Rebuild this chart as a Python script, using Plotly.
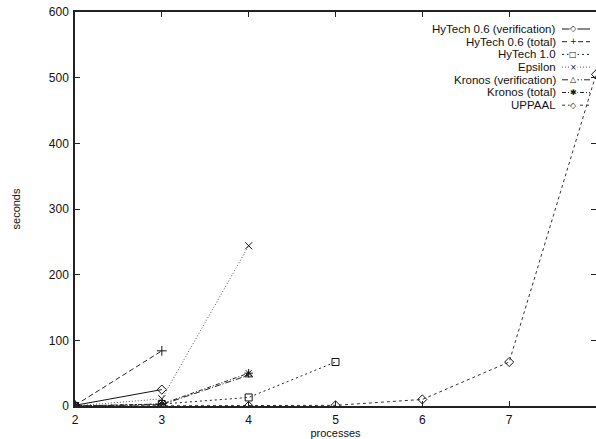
import plotly.graph_objects as go

hytech06_verif_x = [2, 3]
hytech06_verif = [1, 25]
hytech06_total_x = [2, 3]
hytech06_total = [1, 84]
hytech10_x = [2, 3, 4, 5]
hytech10 = [0, 3, 13, 67]
epsilon_x = [2, 3, 4]
epsilon = [0, 11, 244]
kronos_verif_x = [2, 3, 4]
kronos_verif = [0, 2, 47]
kronos_total_x = [2, 3, 4]
kronos_total = [0, 3, 50]
uppaal_x = [2, 3, 4, 5, 6, 7, 8]
uppaal = [0, 0, 0, 1, 10, 67, 505]

x_ticks = [2, 3, 4, 5, 6, 7]
y_ticks = [0, 100, 200, 300, 400, 500, 600]

names = ["HyTech 0.6 (verification)", "HyTech 0.6 (total)", "HyTech 1.0",
         "Epsilon", "Kronos (verification)", "Kronos (total)", "UPPAAL"]
xs = [hytech06_verif_x, hytech06_total_x, hytech10_x, epsilon_x,
      kronos_verif_x, kronos_total_x, uppaal_x]
ys = [hytech06_verif, hytech06_total, hytech10, epsilon,
      kronos_verif, kronos_total, uppaal]
dashes = ["solid", "5px,3px", "2px,3px", "1px,2px", "6px,2px,1px,2px", "4px,2px,1px,2px", "3px,3px"]
symbols = ["diamond-open", "cross-thin-open", "square-open", "x-thin-open",
           "triangle-up-open", "asterisk-open", "diamond-open"]
colors = ["#111", "#222", "#222", "#555", "#222", "#222", "#333"]
glyphs = ["\u25C7", "+", "\u25A1", "\u00D7", "\u25B3", "\u2731", "\u25C7"]

fig = go.Figure()
for n, x, y, d, s, c in zip(names, xs, ys, dashes, symbols, colors):
    fig.add_trace(go.Scatter(
        x=x, y=y, name=n, mode="lines+markers",
        line=dict(color=c, width=1, dash=d),
        marker=dict(symbol=s, size=7, color="#111", line=dict(color="#111", width=1)),
        showlegend=False,
    ))

W, H = 596, 439
L, R, T, B = 75, 0, 12, 33
pw, ph = W - L - R, H - T - B

def px(xp):
    return (xp - L) / pw

def py(yp):
    return (H - B - yp) / ph

annotations = []
shapes = []
for i, (n, d, g, c) in enumerate(zip(names, dashes, glyphs, colors)):
    yrow = 29 + 12.7 * i
    annotations.append(dict(
        x=px(558), y=py(yrow), xref="paper", yref="paper", text=n,
        showarrow=False, xanchor="right", yanchor="middle",
        font=dict(size=11.5, color="#111", family="Liberation Sans, Arial, sans-serif"),
    ))
    shapes.append(dict(
        type="line", xref="paper", yref="paper",
        x0=px(562), x1=px(590), y0=py(yrow), y1=py(yrow),
        line=dict(color=c, width=1, dash=d),
    ))
    annotations.append(dict(
        x=px(573), y=py(yrow), xref="paper", yref="paper", text=g,
        showarrow=False, xanchor="center", yanchor="middle",
        bgcolor="white", borderpad=0,
        font=dict(size=8, color="#111", family="DejaVu Sans, sans-serif"),
    ))

fig.update_layout(
    width=W, height=H,
    margin=dict(l=L, r=R, t=T, b=B, autoexpand=False),
    paper_bgcolor="white", plot_bgcolor="white",
    font=dict(family="Liberation Sans, Arial, sans-serif", size=12, color="#111"),
    annotations=annotations, shapes=shapes,
    xaxis=dict(
        range=[2, 8], tickvals=x_ticks, ticks="inside", ticklen=5,
        tickcolor="#222", showline=True, linecolor="#222", linewidth=1.5,
        mirror="ticks", showgrid=False, zeroline=False, ticklabelstandoff=2,
        title=dict(text="processes", font=dict(size=11), standoff=0),
    ),
    yaxis=dict(
        range=[0, 600], tickvals=y_ticks,
        ticks="inside", ticklen=5, tickcolor="#222", showline=True,
        linecolor="#222", linewidth=1.5, mirror="ticks", showgrid=False,
        zeroline=False, ticklabelstandoff=2, ticklabeloverflow="allow",
        title=dict(text="seconds", font=dict(size=11), standoff=26),
    ),
)

fig.write_html("out.html", config={"displayModeBar": False},
               post_script="document.body.style.margin='0px';")
